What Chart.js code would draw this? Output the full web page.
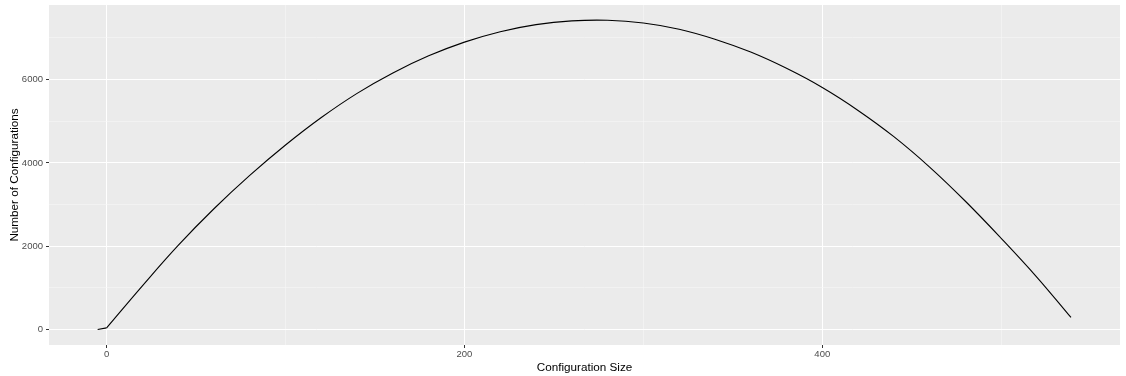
<!DOCTYPE html>
<html>
<head>
<meta charset="utf-8">
<script src="https://cdn.jsdelivr.net/npm/chart.js@4"></script>
<style>
  html, body { margin: 0; padding: 0; background: #fff; }
  #wrap { width: 1126px; height: 376px; }
</style>
</head>
<body>
<div id="wrap"><canvas id="chart"></canvas></div>
<script>
// values
const sizes = [-5, 0, 20, 40, 60, 80, 100, 120, 140, 160, 180, 200, 220, 240, 260, 280,
  300, 320, 340, 360, 380, 400, 420, 440, 460, 480, 500, 520, 539];
const counts = [0, 40, 1050, 2020, 2900, 3700, 4430, 5090, 5670, 6160, 6570, 6900, 7150, 7320, 7410, 7425,
  7360, 7210, 6970, 6660, 6270, 5810, 5260, 4630, 3900, 3080, 2190, 1255, 290];

const xTicks = [0, 100, 200, 300, 400, 500];
const yTicks = [0, 1000, 2000, 3000, 4000, 5000, 6000, 7000];

const font = 'Liberation Sans, Arial, sans-serif';

// grey panel like ggplot
const panelBg = {
  id: 'panelBg',
  beforeDraw(chart) {
    const a = chart.chartArea, c = chart.ctx;
    c.save();
    c.fillStyle = '#EBEBEB';
    c.fillRect(a.left, a.top, a.right - a.left, a.bottom - a.top);
    c.restore();
  }
};

function isMajor(v, step) { return Math.round(v) % step === 0; }

const pts = sizes.map((s, i) => ({ x: s, y: counts[i] }));

new Chart(document.getElementById('chart'), {
  type: 'line',
  data: {
    datasets: [
      {
        // short flat start before the curve
        data: pts.slice(0, 2),
        borderColor: '#000000',
        borderWidth: 1.1,
        pointRadius: 0,
        tension: 0
      },
      {
        data: pts.slice(1),
        borderColor: '#000000',
        borderWidth: 1.1,
        pointRadius: 0,
        tension: 0.4
      }
    ]
  },
  options: {
    responsive: true,
    maintainAspectRatio: false,
    animation: false,
    layout: { padding: { left: 0, right: 6, top: 5, bottom: 0 } },
    plugins: { legend: { display: false }, tooltip: { enabled: false } },
    scales: {
      x: {
        type: 'linear',
        min: -32.2,
        max: 566.4,
        afterBuildTicks: ax => { ax.ticks = xTicks.map(v => ({ value: v })); },
        afterFit: ax => { ax.height = 31; ax.paddingLeft = 0; ax.paddingRight = 0; },
        border: { display: false },
        grid: {
          color: c => isMajor(c.tick.value, 200) ? '#FFFFFF' : '#F7F7F7',
          lineWidth: c => isMajor(c.tick.value, 200) ? 1 : 0.6,
          tickColor: c => isMajor(c.tick.value, 200) ? '#333333' : 'rgba(0,0,0,0)',
          tickLength: 3
        },
        ticks: {
          autoSkip: false,
          maxRotation: 0,
          padding: 1,
          color: '#4D4D4D',
          font: { family: font, size: 9.5 },
          callback: v => isMajor(v, 200) ? String(v) : ''
        },
        title: {
          display: true,
          text: 'Configuration Size',
          color: '#000000',
          font: { family: font, size: 11.7 },
          padding: { top: 0, bottom: 1 }
        }
      },
      y: {
        type: 'linear',
        min: -371,
        max: 7791,
        afterBuildTicks: ax => { ax.ticks = yTicks.map(v => ({ value: v })); },
        afterFit: ax => { ax.width = 49; ax.paddingTop = 0; ax.paddingBottom = 0; },
        border: { display: false },
        grid: {
          color: c => isMajor(c.tick.value, 2000) ? '#FFFFFF' : '#F7F7F7',
          lineWidth: c => isMajor(c.tick.value, 2000) ? 1 : 0.6,
          tickColor: c => isMajor(c.tick.value, 2000) ? '#333333' : 'rgba(0,0,0,0)',
          tickLength: 3
        },
        ticks: {
          autoSkip: false,
          padding: 3,
          color: '#4D4D4D',
          font: { family: font, size: 9.5 },
          callback: v => isMajor(v, 2000) ? String(v) : ''
        },
        title: {
          display: true,
          text: 'Number of Configurations',
          color: '#000000',
          font: { family: font, size: 11.7 },
          padding: { top: 8, bottom: 0 }
        }
      }
    }
  },
  plugins: [panelBg]
});
</script>
</body>
</html>
